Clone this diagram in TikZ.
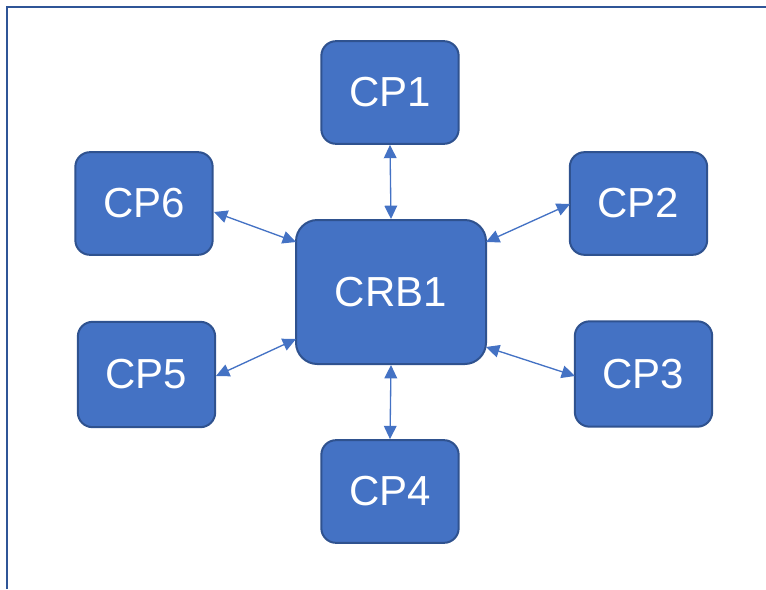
\documentclass[tikz,border=0pt]{standalone}
\usepackage{fontspec}
\setmainfont{Liberation Sans}
\usetikzlibrary{arrows.meta}
\definecolor{boxfill}{HTML}{4472C4}
\definecolor{boxline}{HTML}{2F528F}
\definecolor{frameline}{HTML}{2F5597}
\begin{document}
\begin{tikzpicture}[x=0.75pt,y=-0.75pt,
  cpbox/.style={draw=boxline,line width=1.5pt,fill=boxfill,rounded corners=11pt,
    text=white,font=\fontsize{31.5}{36}\selectfont,inner sep=0pt},
  link/.style={draw=boxfill,line width=1pt,{Triangle[length=10pt,width=9.5pt]}-{Triangle[length=10pt,width=9.5pt]}}]
\useasboundingbox (0,0) rectangle (766,589);
\draw[frameline,line width=2pt] (7,589) -- (7,7) -- (766,7);
\node[cpbox,minimum width=103pt,minimum height=77pt] (cp1) at (390,92.5) {CP1};
\node[cpbox,minimum width=103pt,minimum height=77pt] (cp6) at (144,203.5) {CP6};
\node[cpbox,minimum width=103pt,minimum height=77pt] (cp2) at (638.5,203.5) {CP2};
\node[cpbox,minimum width=142.5pt,minimum height=108pt,rounded corners=16pt] (crb) at (391,292) {CRB1};
\node[cpbox,minimum width=103pt,minimum height=79pt] (cp5) at (146.5,374.5) {CP5};
\node[cpbox,minimum width=103pt,minimum height=79pt] (cp3) at (643.5,374) {CP3};
\node[cpbox,minimum width=103pt,minimum height=77pt] (cp4) at (390,491.5) {CP4};
\coordinate (c6a) at (214,212);
\coordinate (c6b) at (296,242);
\coordinate (c2a) at (570,204);
\coordinate (c2b) at (486,242);
\coordinate (c5a) at (216,376);
\coordinate (c5b) at (296,339);
\coordinate (c3a) at (575,376);
\coordinate (c3b) at (486,347);
\draw[link] (cp1.south) -- (crb.north);
\draw[link] (cp4.north) -- (crb.south);
\draw[link] (c6a) -- (c6b);
\draw[link] (c2a) -- (c2b);
\draw[link] (c5a) -- (c5b);
\draw[link] (c3a) -- (c3b);
\end{tikzpicture}
\end{document}
